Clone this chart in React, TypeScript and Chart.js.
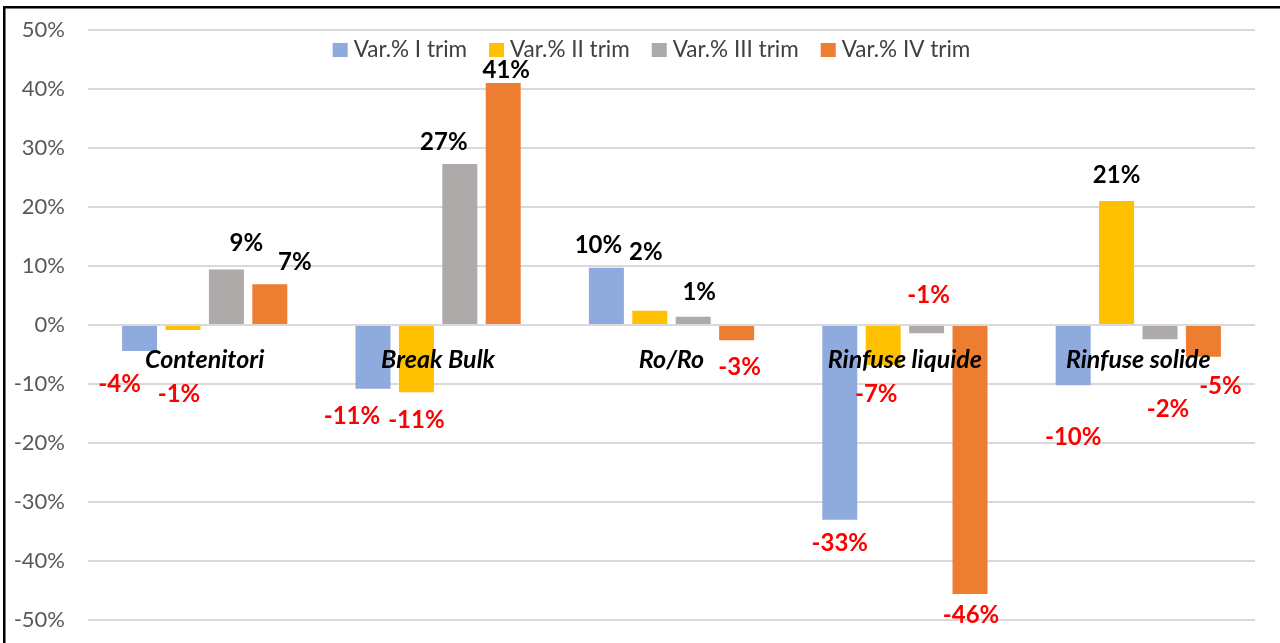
import React, { useEffect, useRef } from 'react';
import { Chart, registerables } from 'chart.js';

Chart.register(...registerables);

// ---- data ----
const categories = ['Contenitori', 'Break Bulk', 'Ro/Ro', 'Rinfuse liquide', 'Rinfuse solide'];
const seriesNames = ['Var.% I trim', 'Var.% II trim', 'Var.% III trim', 'Var.% IV trim'];
const trim1 = [-4.4, -10.8, 9.7, -33.0, -10.2];
const trim2 = [-0.85, -11.4, 2.4, -6.8, 21.0];
const trim3 = [9.4, 27.3, 1.4, -1.4, -2.4];
const trim4 = [6.9, 41.0, -2.6, -45.6, -5.4];
const yMin = -50;
const yMax = 50;
const yStep = 10;

// ---- styles ----
const seriesColors = ['#8FAADC', '#FFC000', '#AEAAAA', '#ED7D31'];
const FONT = 'Lato, "Noto Sans", sans-serif';

// manual label nudges [dx, dy] (series x category), like hand-moved labels in the original
const labelNudges: number[][][] = [
  [[-20, 6], [-21, 1], [-8, 0], [0, -3], [0, 25]],
  [[-4, 37], [0, 1], [-4, -36], [-7, 2], [0, -3]],
  [[20, -3], [-16, 1], [6, -1], [2, -65], [8, 43]],
  [[25, 1], [3, 10], [3, 0], [1, -6], [17, 2]],
];

const decorPlugin = {
  id: 'decor',
  beforeDraw(chart: any) {
    const { ctx, width, height } = chart;
    ctx.save();
    ctx.fillStyle = '#ffffff';
    ctx.fillRect(0, 0, width, height);
    ctx.strokeStyle = '#000000';
    ctx.lineWidth = 2.5;
    ctx.beginPath();
    ctx.moveTo(4.25, height);
    ctx.lineTo(4.25, 7.25);
    ctx.lineTo(width, 7.25);
    ctx.stroke();
    ctx.restore();
  },
  afterDatasetsDraw(chart: any) {
    const { ctx, chartArea } = chart;
    const xScale = chart.scales.x;
    const yScale = chart.scales.y;
    const zeroY = yScale.getPixelForValue(0);
    ctx.save();

    // category labels, drawn over bars just below zero line
    ctx.font = `italic bold 25px ${FONT}`;
    ctx.fillStyle = '#000000';
    ctx.textAlign = 'center';
    ctx.textBaseline = 'alphabetic';
    categories.forEach((c, i) => {
      ctx.fillText(c, xScale.getPixelForValue(i), zeroY + 43);
    });

    // data labels
    ctx.font = `bold 24px ${FONT}`;
    ctx.textBaseline = 'middle';
    chart.data.datasets.forEach((ds: any, di: number) => {
      const meta = chart.getDatasetMeta(di);
      meta.data.forEach((bar: any, i: number) => {
        const v = ds.data[i];
        const r = Math.round(v);
        const nudge = labelNudges[di][i];
        const base = v >= 0 ? bar.y - 23 : bar.y + 27;
        ctx.fillStyle = v >= 0 ? '#000000' : '#FF0000';
        ctx.fillText(`${r}%`, bar.x + nudge[0], base + nudge[1]);
      });
    });

    // legend inside plot area
    ctx.font = `22.5px ${FONT}`;
    ctx.textAlign = 'left';
    ctx.textBaseline = 'alphabetic';
    const box = 15;
    const gap = 6;
    const itemGap = 22;
    const widths = seriesNames.map((n) => ctx.measureText(n).width);
    const total = widths.reduce((a, w) => a + box + gap + w, 0) + itemGap * (seriesNames.length - 1);
    let x = (chartArea.left + chartArea.right) / 2 - 20 - total / 2;
    const baseY = chartArea.top + 27;
    seriesNames.forEach((n, i) => {
      ctx.fillStyle = seriesColors[i];
      ctx.fillRect(x, baseY - 14, box, 14);
      ctx.fillStyle = '#404040';
      ctx.fillText(n, x + box + gap, baseY);
      x += box + gap + widths[i] + itemGap;
    });
    ctx.restore();
  },
};

export default function App() {
  const canvasRef = useRef<HTMLCanvasElement | null>(null);

  useEffect(() => {
    document.body.style.margin = '0';
    const canvas = canvasRef.current;
    if (!canvas) return;
    const series = [trim1, trim2, trim3, trim4];
    const chart = new Chart(canvas, {
      type: 'bar',
      data: {
        labels: categories,
        datasets: series.map((d, i) => ({
          label: seriesNames[i],
          data: d,
          backgroundColor: seriesColors[i],
          borderWidth: 0,
          categoryPercentage: 0.744,
          barPercentage: 0.806,
        })),
      },
      options: {
        responsive: false,
        animation: false,
        devicePixelRatio: 1,
        layout: { padding: { left: 0, right: 25, top: 30, bottom: 23 } },
        plugins: {
          legend: { display: false },
          tooltip: { enabled: false },
        },
        scales: {
          x: {
            display: false,
          },
          y: {
            min: yMin,
            max: yMax,
            border: { display: false },
            grid: { color: '#D9D9D9', lineWidth: 2, drawTicks: false },
            ticks: {
              stepSize: yStep,
              padding: 23,
              color: '#595959',
              font: { family: FONT, size: 22 },
              callback: (v: any) => `${v}%`,
            },
            afterFit: (scale: any) => {
              scale.width = 88;
              scale.paddingTop = 0;
              scale.paddingBottom = 0;
            },
          },
        },
      },
      plugins: [decorPlugin],
    });
    return () => chart.destroy();
  }, []);

  return (
    <div style={{ width: 1280, height: 643, background: '#fff' }}>
      <canvas ref={canvasRef} width={1280} height={643} />
    </div>
  );
}
